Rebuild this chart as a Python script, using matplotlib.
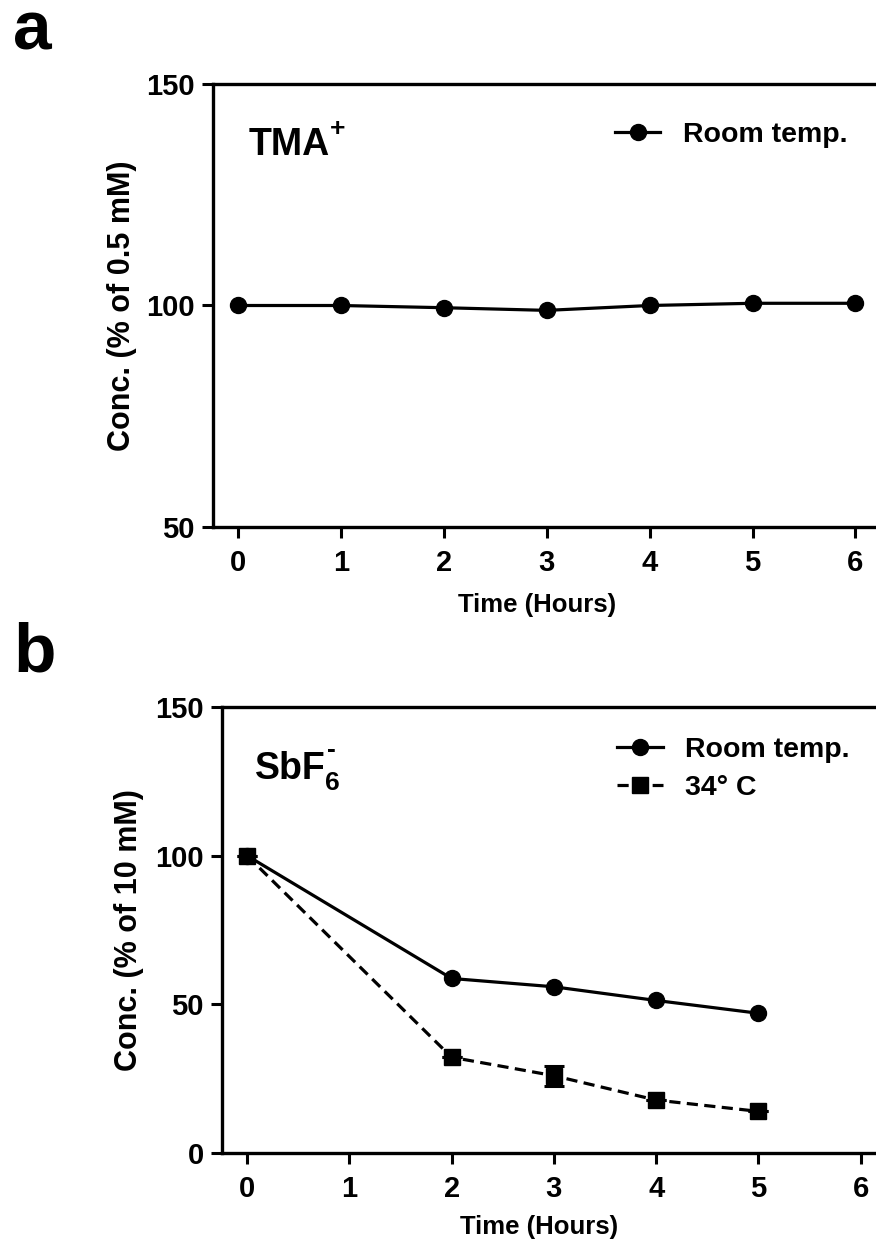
import numpy as np
import matplotlib
matplotlib.use("Agg")
import matplotlib.pyplot as plt

plt.rcParams['font.family'] = ['Liberation Sans', 'DejaVu Sans']
plt.rcParams['font.weight'] = 'bold'

# panel a: TMA+
hours_a = [0, 1, 2, 3, 4, 5, 6]
tma_room = [100, 100, 99.5, 98.9, 100, 100.5, 100.5]

# panel b: SbF6-
hours_b = [0, 2, 3, 4, 5]
sbf_room = [100, 58.7, 55.9, 51.3, 47.0]
sbf_34 = [100, 32.2, 26.0, 17.8, 14.0]
sbf_34_err = [0, 0, 3.4, 0, 0]

fig = plt.figure(figsize=(8.76, 12.49), dpi=100)
ax1 = fig.add_axes([213/876, 1-527/1249, 1-213/876, (527-84)/1249])
ax2 = fig.add_axes([222/876, 1-1153/1249, 1-222/876, (1153-707)/1249])

lw = 2.3
for ax in (ax1, ax2):
    ax.spines['right'].set_visible(False)
    for s in ('left', 'bottom', 'top'):
        ax.spines[s].set_linewidth(2.4)
    ax.tick_params(direction='out', length=8, width=2.2, labelsize=21, pad=5)
    ax.tick_params(axis='x', pad=8)
    ax.set_xticks(range(7))
    for lab in ax.get_xticklabels() + ax.get_yticklabels():
        lab.set_fontweight('bold')

# panel a
ax1.plot(hours_a, tma_room, '-o', color='black', lw=lw, ms=11.5, label='Room temp.', clip_on=False)
ax1.set_xlim(-0.243, 6.2)
ax1.set_ylim(50, 150)
ax1.set_yticks([50, 100, 150])
ax1.set_ylabel('Conc. (% of 0.5 mM)', fontsize=22, fontweight='bold')
ax1.yaxis.set_label_coords(-0.115, 0.5)
ax1.set_xlabel('Time (Hours)', fontsize=18.5, fontweight='bold')
ax1.xaxis.set_label_coords(0.489, -0.15)
t1 = ax1.text(0.053, 0.84, 'TMA', transform=ax1.transAxes, fontsize=27, fontweight='bold')
ax1.annotate('+', xy=(1.0, 0.62), xycoords=t1, fontsize=19, fontweight='bold', va='bottom')
ax1.legend(loc='center left', bbox_to_anchor=(0.606, 0.885), frameon=False, fontsize=20.5,
           borderpad=0, borderaxespad=0, handlelength=1.6, handletextpad=0.8)

# panel b
ax2.plot(hours_b, sbf_room, '-o', color='black', lw=lw, ms=11.5, label='Room temp.')
ax2.plot(hours_b, sbf_34, marker='s', ls=(0, (3.5, 2)), color='black', lw=lw, ms=11.5, label='34° C')
ax2.errorbar(hours_b, sbf_34, yerr=sbf_34_err, fmt='none', ecolor='black',
             capsize=7, capthick=2.2, elinewidth=2.2)
ax2.set_xlim(-0.245, 6.15)
ax2.set_ylim(0, 150)
ax2.set_yticks([0, 50, 100, 150])
ax2.set_ylabel('Conc. (% of 10 mM)', fontsize=22, fontweight='bold')
ax2.yaxis.set_label_coords(-0.12, 0.5)
ax2.set_xlabel('Time (Hours)', fontsize=18.5, fontweight='bold')
ax2.xaxis.set_label_coords(0.485, -0.14)
t2 = ax2.text(0.05, 0.839, 'SbF', transform=ax2.transAxes, fontsize=27, fontweight='bold')
ax2.annotate('6', xy=(1.0, -0.22), xycoords=t2, fontsize=19, fontweight='bold', va='bottom')
ax2.annotate('-', xy=(1.02, 0.68), xycoords=t2, fontsize=19, fontweight='bold', va='bottom')
ax2.legend(loc='center left', bbox_to_anchor=(0.604, 0.861), frameon=False, fontsize=20.5,
           borderpad=0, borderaxespad=0, handlelength=1.6, handletextpad=0.8, labelspacing=0.45)

fig.text(13/876, 1-50/1249, 'a', fontsize=50, fontweight='bold')
fig.text(13/876, 1-672/1249, 'b', fontsize=50, fontweight='bold')

fig.savefig('out.png', dpi=100)
